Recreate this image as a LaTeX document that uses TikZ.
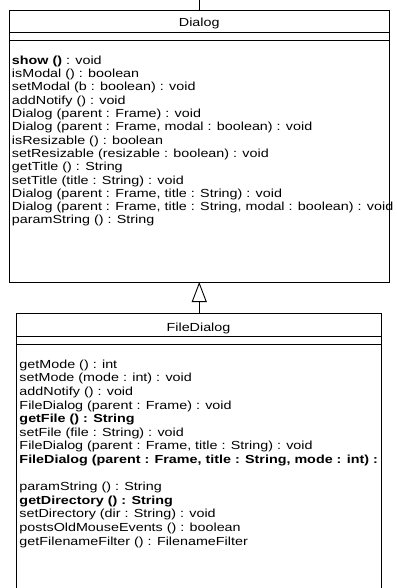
\documentclass[tikz,border=0pt]{standalone}
\usepackage{fontspec}
\setmainfont{Liberation Sans}[FakeStretch=1.225]
\usetikzlibrary{arrows.meta}
\tikzset{
  classbox/.style={draw=none, rectangle, inner sep=0pt, outer sep=0pt},
  boxline/.style={line width=0.9pt, draw=black},
  mtext/.style={anchor=base west, inner sep=0pt, outer sep=0pt, font=\fontsize{11.7}{13.4}\selectfont},
  ctitle/.style={anchor=base, inner sep=0pt, outer sep=0pt, font=\fontsize{11.7}{13.4}\selectfont},
  inherit/.style={line width=0.9pt, -{Triangle[open, length=20pt, width=15pt]}}
}
\begin{document}
\begin{tikzpicture}[x=1pt,y=-1pt]
\fill[white] (0,0) rectangle (396,588);
\useasboundingbox (0,0) rectangle (396,588);
% Dialog class
\node[classbox, minimum width=379.5pt, minimum height=272pt] (dlg) at (199.25,146) {};
\draw[boxline] (dlg.south west) rectangle (dlg.north east);
\draw[boxline] (dlg.west |- 0,32.3) -- (dlg.east |- 0,32.3);
\draw[boxline] (dlg.west |- 0,40) -- (dlg.east |- 0,40);
\node[ctitle] (dlgname) at (199.25,27) {Dialog};
\foreach \i/\t in {1/{\textbf{show ()} : void},
  2/{isModal () : boolean},
  3/{setModal (b : boolean) : void},
  4/{addNotify () : void},
  5/{Dialog (parent : Frame) : void},
  6/{Dialog (parent : Frame, modal : boolean) : void},
  7/{isResizable () : boolean},
  8/{setResizable (resizable : boolean) : void},
  9/{getTitle () : String},
  10/{setTitle (title : String) : void},
  11/{Dialog (parent : Frame, title : String) : void},
  12/{Dialog (parent : Frame, title : String, modal : boolean) : void},
  13/{paramString () : String}}
  \node[mtext] (dm\i) at (12,{64.3+13.3*(\i-1)}) {\t};
% FileDialog class
\node[classbox, minimum width=365pt, minimum height=274.5pt] (fd) at (198.5,450.75) {};
\draw[boxline] (fd.south west) |- (fd.north east) -- (fd.south east);
\draw[boxline] (fd.west |- 0,336.7) -- (fd.east |- 0,336.7);
\draw[boxline] (fd.west |- 0,344) -- (fd.east |- 0,344);
\node[ctitle] (fdname) at (198.5,331) {FileDialog};
\foreach \i/\t in {1/{getMode () : int},
  2/{setMode (mode : int) : void},
  3/{addNotify () : void},
  4/{FileDialog (parent : Frame) : void},
  5/{\textbf{getFile () : String}},
  6/{setFile (file : String) : void},
  7/{FileDialog (parent : Frame, title : String) : void},
  8/{\textbf{FileDialog (parent : Frame, title : String, mode : int) :}},
  10/{paramString () : String},
  11/{\textbf{getDirectory () : String}},
  12/{setDirectory (dir : String) : void},
  13/{postsOldMouseEvents () : boolean},
  14/{getFilenameFilter () : FilenameFilter}}
  \node[mtext] (fm\i) at (19.5,{368.3+13.6*(\i-1)}) {\t};
% connectors
\coordinate (topend) at (199.25,0);
\draw[boxline] (topend) -- (dlg.north);
\draw[inherit] (dlg.south |- fd.north) -- (dlg.south);
\end{tikzpicture}
\end{document}
